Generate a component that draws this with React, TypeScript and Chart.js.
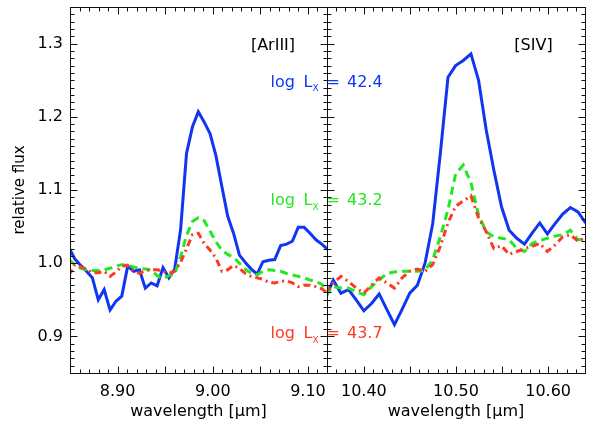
import React, { useEffect, useRef } from 'react';
import { Chart, registerables } from 'chart.js';

Chart.register(...registerables);

// ---------------- data ----------------
// [ArIII] panel wavelengths (micron)
const arWavelength = [
  8.8488, 8.855, 8.8612, 8.8673, 8.8735, 8.8797, 8.8859, 8.8921, 8.8982, 8.9044,
  8.9106, 8.9168, 8.923, 8.9291, 8.9353, 8.9415, 8.9477, 8.9539, 8.96, 8.9662,
  8.9724, 8.9786, 8.9848, 8.9909, 8.9971, 9.0033, 9.0095, 9.0157, 9.0218, 9.028,
  9.0342, 9.0404, 9.0466, 9.0527, 9.0589, 9.0651, 9.0713, 9.0775, 9.0836, 9.0898,
  9.096, 9.1022, 9.1084, 9.1145, 9.1207,
];
const arLx424 = [
  1.022, 1.006, 0.997, 0.989, 0.98, 0.95, 0.964, 0.936, 0.948, 0.955,
  0.996, 0.989, 0.991, 0.966, 0.973, 0.969, 0.994, 0.98, 0.992, 1.046,
  1.15, 1.186, 1.207, 1.193, 1.177, 1.147, 1.105, 1.064, 1.041, 1.011,
  1.001, 0.992, 0.985, 1.002, 1.004, 1.005, 1.024, 1.026, 1.03, 1.049,
  1.049, 1.041, 1.032, 1.026, 1.019,
];
const arLx432 = [
  1.005, 0.998, 0.993, 0.991, 0.99, 0.99, 0.991, 0.993, 0.996, 0.998,
  0.997, 0.995, 0.993, 0.992, 0.991, 0.983, 0.979, 0.983, 0.985, 1.009,
  1.038, 1.057, 1.062, 1.058, 1.044, 1.029, 1.018, 1.012, 1.008, 1.0,
  0.992, 0.986, 0.984, 0.989, 0.991, 0.99, 0.989, 0.986, 0.984, 0.982,
  0.98, 0.977, 0.975, 0.971, 0.962,
];
const arLx437 = [
  0.983, 0.998, 0.995, 0.992, 0.987, 0.987, 0.989, 0.982, 0.988, 0.996,
  0.997, 0.99, 0.986, 0.99, 0.991, 0.991, 0.989, 0.986, 0.989, 1.001,
  1.02, 1.039, 1.041, 1.027, 1.018, 1.007, 0.989, 0.991, 0.997, 0.993,
  0.986, 0.982, 0.98, 0.978, 0.974, 0.973, 0.975, 0.976, 0.973, 0.968,
  0.97, 0.97, 0.968, 0.965, 0.959,
];

// [SIV] panel wavelengths (micron)
const sivWavelength = [
  10.3585, 10.3668, 10.3751, 10.3834, 10.3917, 10.4, 10.4083, 10.4166, 10.4249, 10.4332,
  10.4415, 10.4498, 10.4581, 10.4664, 10.4747, 10.483, 10.4913, 10.4996, 10.5079, 10.5162,
  10.5245, 10.5328, 10.5411, 10.5494, 10.5577, 10.566, 10.5743, 10.5826, 10.5909, 10.5992,
  10.6075, 10.6158, 10.6241, 10.6324, 10.6407,
];
const sivLx424 = [
  0.953, 0.977, 0.959, 0.964, 0.95, 0.935, 0.945, 0.958, 0.937, 0.916,
  0.937, 0.959, 0.97, 1.0, 1.054, 1.15, 1.254, 1.27, 1.277, 1.286,
  1.25, 1.182, 1.127, 1.077, 1.045, 1.034, 1.026, 1.041, 1.055, 1.04,
  1.054, 1.067, 1.076, 1.07, 1.055,
];
const sivLx432 = [
  0.955, 0.968, 0.966, 0.966, 0.961, 0.957, 0.968, 0.977, 0.986, 0.988,
  0.989, 0.989, 0.989, 0.99, 1.005, 1.036, 1.073, 1.122, 1.134, 1.11,
  1.066, 1.043, 1.036, 1.034, 1.032, 1.02, 1.016, 1.027, 1.031, 1.034,
  1.037, 1.039, 1.045, 1.032, 1.033,
];
const sivLx437 = [
  0.96, 0.973, 0.982, 0.975, 0.966, 0.959, 0.97, 0.98, 0.973, 0.966,
  0.98, 0.989, 0.992, 0.989, 0.998, 1.023, 1.055, 1.078, 1.085, 1.092,
  1.062, 1.043, 1.02, 1.024, 1.012, 1.016, 1.02, 1.023, 1.027, 1.016,
  1.025, 1.036, 1.039, 1.03, 1.035,
];

const fluxTicks = [0.9, 1.0, 1.1, 1.2, 1.3];
const arTicks = [8.9, 9.0, 9.1];
const sivTicks = [10.4, 10.5, 10.6];
const lxValues = ['42.4', '43.2', '43.7'];
const lineNames = ['[ArIII]', '[SIV]'];

// ---------------- styling ----------------
const FONT = "'DejaVu Sans', 'Liberation Sans', sans-serif";
const COLORS = ['#1036f2', '#22e822', '#ff3a22'];
const DASHES: number[][] = [[], [8, 5], [7, 4, 2, 4]];

const framePlugin = {
  id: 'idlFrame',
  afterDraw(chart: any) {
    const { ctx, chartArea } = chart;
    const xs = chart.scales.x;
    const ys = chart.scales.y;
    const L = Math.floor(chartArea.left) + 0.5;
    const R = Math.floor(chartArea.right) + 0.5;
    const T = Math.floor(chartArea.top) + 0.5;
    const B = Math.floor(chartArea.bottom) + 0.5;
    ctx.save();
    ctx.strokeStyle = '#111';
    ctx.lineWidth = 1;
    ctx.setLineDash([]);
    ctx.strokeRect(L, T, R - L, B - T);
    ctx.beginPath();
    for (let k = Math.ceil(xs.min * 100 - 1e-6); k <= Math.floor(xs.max * 100 + 1e-6); k++) {
      const p = Math.round(xs.getPixelForValue(k / 100)) + 0.5;
      const len = k % 5 === 0 ? 7 : 4;
      ctx.moveTo(p, B);
      ctx.lineTo(p, B - len);
      ctx.moveTo(p, T);
      ctx.lineTo(p, T + len);
    }
    for (let k = Math.ceil(ys.min * 100 - 1e-6); k <= Math.floor(ys.max * 100 + 1e-6); k++) {
      const p = Math.round(ys.getPixelForValue(k / 100)) + 0.5;
      const len = k % 10 === 0 ? 7 : 4;
      ctx.moveTo(L, p);
      ctx.lineTo(L + len, p);
      ctx.moveTo(R, p);
      ctx.lineTo(R - len, p);
    }
    ctx.stroke();
    ctx.restore();
  },
};

function makeConfig(
  wl: number[],
  series: number[][],
  xTicks: number[],
  xMin: number,
  xMax: number,
  showY: boolean,
  padding: any
): any {
  return {
    type: 'line',
    data: {
      datasets: series.map((vals, i) => ({
        label: 'log Lx = ' + lxValues[i],
        data: wl.map((x, j) => ({ x, y: vals[j] })),
        borderColor: COLORS[i],
        borderWidth: 3,
        borderDash: DASHES[i],
        borderCapStyle: 'butt',
        borderJoinStyle: 'miter',
        pointRadius: 0,
        tension: 0,
        fill: false,
        order: 3 - i,
      })),
    },
    options: {
      responsive: false,
      animation: false,
      events: [],
      layout: { padding },
      plugins: { legend: { display: false }, tooltip: { enabled: false } },
      scales: {
        x: {
          type: 'linear',
          min: xMin,
          max: xMax,
          afterBuildTicks: (s: any) => {
            s.ticks = xTicks.map((v) => ({ value: v }));
          },
          afterFit: (s: any) => {
            s.height = 53;
            s.paddingLeft = 0;
            s.paddingRight = 0;
          },
          ticks: {
            autoSkip: false,
            maxRotation: 0,
            minRotation: 0,
            padding: 9,
            color: '#000',
            font: { family: FONT, size: 16 },
            callback: (v: any) => Number(v).toFixed(2),
          },
          grid: { display: false, drawTicks: false },
          border: { display: false },
          title: {
            display: true,
            text: 'wavelength [\u03bcm]',
            color: '#000',
            font: { family: FONT, size: 16 },
            padding: { top: 0, bottom: 5 },
          },
        },
        y: showY
          ? {
              type: 'linear',
              min: 0.85,
              max: 1.35,
              afterBuildTicks: (s: any) => {
                s.ticks = fluxTicks.map((v) => ({ value: v }));
              },
              afterFit: (s: any) => {
                s.width = 70;
                s.paddingTop = 0;
                s.paddingBottom = 0;
              },
              ticks: {
                autoSkip: false,
                padding: 7,
                color: '#000',
                font: { family: FONT, size: 16 },
                callback: (v: any) => Number(v).toFixed(1),
              },
              grid: { display: false, drawTicks: false },
              border: { display: false },
              title: {
                display: true,
                text: 'relative flux',
                color: '#000',
                font: { family: FONT, size: 15 },
                padding: { top: 11, bottom: 0 },
              },
            }
          : { type: 'linear', min: 0.85, max: 1.35, display: false },
      },
    },
    plugins: [framePlugin],
  };
}

function ChartCanvas(props: { left: number; width: number; build: () => any }) {
  const ref = useRef<HTMLCanvasElement | null>(null);
  useEffect(() => {
    if (!ref.current) return;
    const chart = new Chart(ref.current, props.build());
    return () => chart.destroy();
  }, []);
  return (
    <canvas
      ref={ref}
      width={props.width}
      height={426}
      style={{ position: 'absolute', left: props.left, top: 0, width: props.width, height: 426 }}
    />
  );
}

function txt(left: number, top: number, size: number, color: string, center = false): React.CSSProperties {
  return {
    position: 'absolute',
    left,
    top,
    fontFamily: FONT,
    fontSize: size,
    lineHeight: `${size}px`,
    color,
    whiteSpace: 'pre',
    transform: center ? 'translateX(-50%)' : undefined,
  };
}

export default function App() {
  const baselines = [87.3, 206, 339];
  return (
    <div
      style={{
        position: 'absolute',
        left: 0,
        top: 0,
        width: 594,
        height: 426,
        background: '#fff',
        overflow: 'hidden',
      }}
    >
      <ChartCanvas
        left={0}
        width={334}
        build={() =>
          makeConfig(arWavelength, [arLx424, arLx432, arLx437], arTicks, 8.85, 9.12, true, {
            left: 0,
            right: 7,
            top: 7,
            bottom: 0,
          })
        }
      />
      <ChartCanvas
        left={320}
        width={274}
        build={() =>
          makeConfig(sivWavelength, [sivLx424, sivLx432, sivLx437], sivTicks, 10.36, 10.64, false, {
            left: 7,
            right: 9,
            top: 7,
            bottom: 0,
          })
        }
      />
      <div style={txt(273, 50.7 - 13.55, 16, '#000', true)}>{lineNames[0]}</div>
      <div style={txt(533.5, 50.7 - 13.55, 16, '#000', true)}>{lineNames[1]}</div>
      {lxValues.map((v, i) => {
        const b = baselines[i];
        const c = COLORS[i];
        return (
          <React.Fragment key={v}>
            <div style={txt(270.5, b - 13.55, 16, c)}>log</div>
            <div style={txt(303.5, b - 13.55, 16, c)}>L</div>
            <div style={txt(312.5, b + 4.4 - 7.6, 9, c)}>X</div>
            <div style={txt(326.5, b - 13.55, 16, c)}>=</div>
            <div style={txt(347, b - 13.55, 16, c)}>{v}</div>
          </React.Fragment>
        );
      })}
    </div>
  );
}
